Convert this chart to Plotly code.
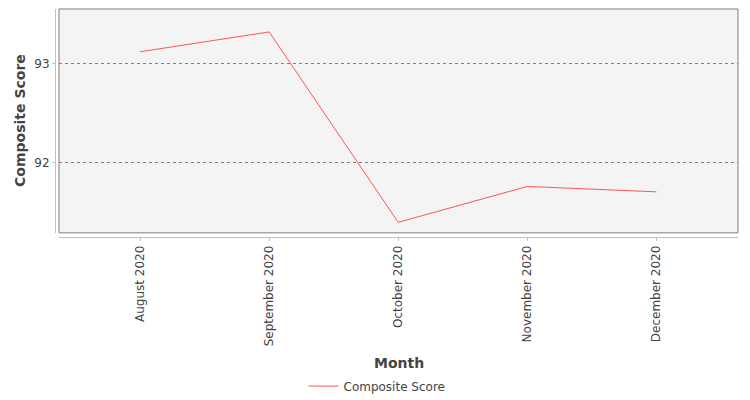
import plotly.graph_objects as go

months = ["August 2020", "September 2020", "October 2020", "November 2020", "December 2020"]
scores = [93.124, 93.326, 91.39, 91.755, 91.70]
y_ticks = [92, 93]

# page body has an 8px margin; figure is sized to fill the remaining window
OFFX, OFFY = 8, 7
W, H = 750 - OFFX, 400 - OFFY
# plot frame in window pixels
fx0, fx1, fy0, fy1 = 59, 738, 8, 233
xline_y = 237
yline_x = 55

def px(x):
    return (x - OFFX) / W

def py(y):
    return 1 - (y - OFFY) / H

fig = go.Figure()
fig.add_trace(go.Scatter(
    x=months, y=scores, mode="lines", name="Composite Score",
    line=dict(color="#ff5555", width=1),
))

font = "DejaVu Sans"
txt = "#444444"
fig.update_layout(
    template="none",
    width=W, height=H,
    margin=dict(l=0, r=0, t=0, b=0, pad=0),
    paper_bgcolor="white",
    plot_bgcolor="#f4f4f4",
    font=dict(family=font, size=12, color=txt),
    showlegend=True,
    legend=dict(orientation="h", x=px(377), xanchor="center", y=py(387), yanchor="middle",
                font=dict(family=font, size=12, color=txt),
                bgcolor="rgba(0,0,0,0)", itemwidth=30),
    xaxis=dict(
        domain=[px(fx0), px(fx1)],
        anchor="free", position=py(xline_y),
        range=[-0.628, 4.632],
        showline=True, linecolor="#c0c0c0", linewidth=1,
        ticks="outside", ticklen=3, tickcolor="#c0c0c0",
        tickangle=-90,
        tickfont=dict(family=font, size=12, color=txt),
        showgrid=False, zeroline=False, automargin=False,
    ),
    yaxis=dict(
        domain=[py(fy1), py(fy0)],
        anchor="free", position=px(yline_x),
        range=[91.283, 93.559],
        tickvals=y_ticks,
        showline=True, linecolor="#c0c0c0", linewidth=1,
        ticks="outside", ticklen=3, tickcolor="#c0c0c0",
        tickfont=dict(family=font, size=12, color=txt),
        showgrid=True, gridcolor="#808080", griddash="dot", gridwidth=1,
        zeroline=False, automargin=False,
    ),
    shapes=[dict(type="rect", xref="paper", yref="paper",
                 x0=px(fx0), x1=px(fx1), y0=py(fy1), y1=py(fy0),
                 line=dict(color="#808080", width=1), fillcolor="rgba(0,0,0,0)", layer="above")],
    annotations=[
        dict(text="<b>Month</b>", xref="paper", yref="paper", x=px(398.5), y=py(364),
             xanchor="center", yanchor="middle", showarrow=False,
             font=dict(family=font, size=14, color=txt)),
        dict(text="<b>Composite Score</b>", xref="paper", yref="paper", x=px(20), y=py(120.5),
             xanchor="center", yanchor="middle", showarrow=False, textangle=-90,
             font=dict(family=font, size=14, color=txt)),
    ],
)

fig.write_html("out.html")
